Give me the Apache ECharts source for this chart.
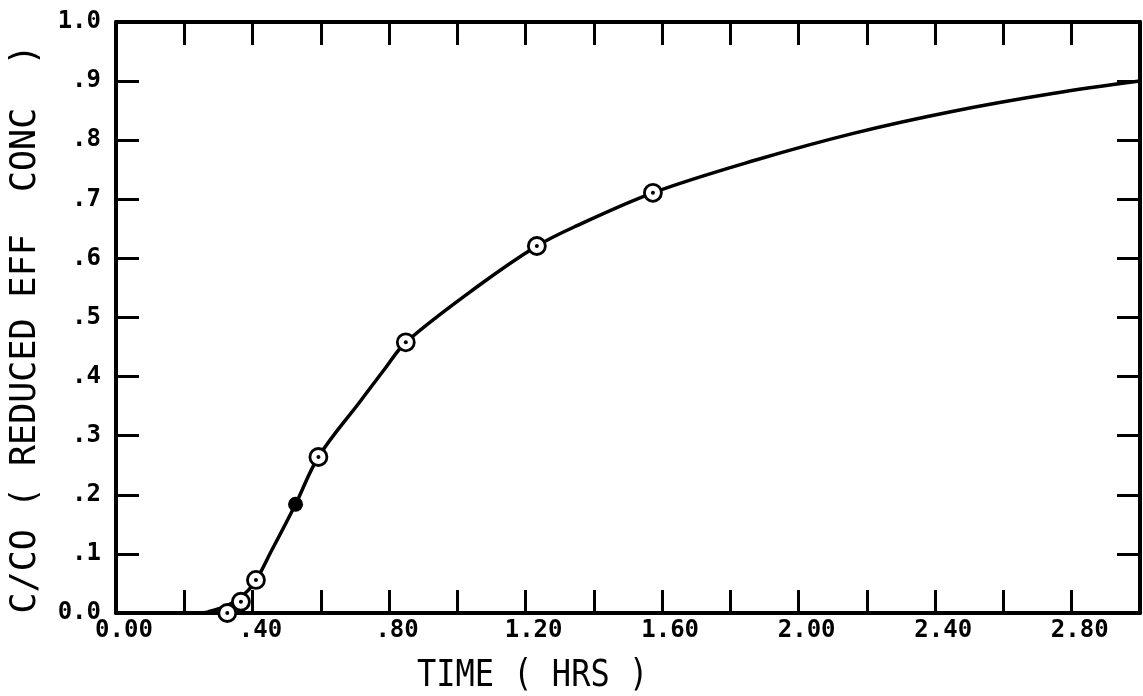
<!DOCTYPE html>
<html>
<head>
<meta charset="utf-8">
<script src="https://cdn.jsdelivr.net/npm/echarts@6/dist/echarts.min.js"></script>
<style>
  html, body { margin: 0; padding: 0; background: #fff; }
  #chart { width: 1143px; height: 696px; }
</style>
</head>
<body>
<div id="chart"></div>
<script>
  // smooth fitted curve
  let curveX = [0.235, 0.27, 0.34, 0.40, 0.457, 0.526, 0.593, 0.718, 0.79, 0.849, 1.058, 1.233, 1.349, 1.573, 1.872, 2.163, 2.453, 2.744, 3.0]
  let curveY = [0, 0.002, 0.017, 0.047, 0.107, 0.184, 0.264, 0.360, 0.415, 0.458, 0.552, 0.621, 0.655, 0.711, 0.766, 0.812, 0.849, 0.879, 0.900]
  // measured points (open circles)
  let pointX = [0.326, 0.366, 0.41, 0.593, 0.849, 1.233, 1.573]
  let pointY = [0.0, 0.019, 0.056, 0.264, 0.458, 0.621, 0.711]
  // the one solid point
  let solidX = [0.526]
  let solidY = [0.184]

  let xTitle = 'TIME ( HRS )'
  let yTitle = 'C/CO ( REDUCED EFF  CONC  )'

  let zip = (a, b) => a.map((v, i) => [v, b[i]])

  let chart = echarts.init(document.getElementById('chart'))

  let tickFont = {
    color: '#000',
    fontFamily: 'DejaVu Sans Mono',
    fontWeight: 'bold',
    fontSize: 24
  }
  let line = { show: true, onZero: false, lineStyle: { color: '#000', width: 4 } }
  let tick = { show: true, inside: true, length: 23, lineStyle: { color: '#000', width: 3 } }

  let xFmt = v => {
    let r = Math.round(v * 100)
    if (r % 40 !== 0) return ''
    if (r === 0) return '0.00'
    if (r < 100) return '.' + r
    return (r / 100).toFixed(2)
  }
  let yFmt = v => {
    let r = Math.round(v * 10)
    if (r === 0) return '0.0'
    if (r === 10) return '1.0'
    return '.' + r
  }

  let option = {
    animation: false,
    backgroundColor: '#fff',
    grid: { left: 116, top: 22, width: 1027, height: 591, containLabel: false },
    xAxis: [
      {
        type: 'value', position: 'bottom', min: 0, max: 3, interval: 0.2,
        axisLine: line,
        axisTick: tick,
        axisLabel: Object.assign({ margin: 6, formatter: xFmt, padding: [0, 0, 0, 16] }, tickFont),
        splitLine: { show: false }
      },
      {
        type: 'value', position: 'top', min: 0, max: 3, interval: 0.2,
        axisLine: line,
        axisTick: tick,
        axisLabel: { show: false },
        splitLine: { show: false }
      }
    ],
    yAxis: [
      {
        type: 'value', position: 'left', min: 0, max: 1, interval: 0.1,
        axisLine: line,
        axisTick: tick,
        axisLabel: Object.assign({ margin: 15, formatter: yFmt }, tickFont),
        splitLine: { show: false }
      },
      {
        type: 'value', position: 'right', min: 0, max: 1, interval: 0.1,
        axisLine: line,
        axisTick: tick,
        axisLabel: { show: false },
        splitLine: { show: false }
      }
    ],
    graphic: [
      {
        type: 'text', x: 417, y: 658, scaleY: 1.15,
        style: {
          text: xTitle, fill: '#000',
          fontFamily: 'DejaVu Sans Mono', fontSize: 32,
          align: 'left', verticalAlign: 'top'
        }
      },
      {
        type: 'text', x: 26, y: 329, rotation: Math.PI / 2,
        style: {
          text: yTitle, fill: '#000',
          fontFamily: 'DejaVu Sans Mono', fontSize: 35,
          align: 'center', verticalAlign: 'middle'
        }
      }
    ],
    series: [
      {
        type: 'line',
        data: zip(curveX, curveY),
        smooth: 0.35,
        showSymbol: false,
        clip: true,
        lineStyle: { color: '#000', width: 3.5 },
        z: 2
      },
      {
        type: 'scatter',
        data: zip(pointX, pointY),
        symbol: 'circle',
        symbolSize: 17,
        itemStyle: { color: '#fff', borderColor: '#000', borderWidth: 2.8, opacity: 1 },
        z: 3
      },
      {
        type: 'scatter',
        data: zip(pointX, pointY),
        symbol: 'circle',
        symbolSize: 4,
        itemStyle: { color: '#000', opacity: 1 },
        z: 4
      },
      {
        type: 'scatter',
        data: zip(solidX, solidY),
        symbol: 'circle',
        symbolSize: 15,
        itemStyle: { color: '#000', opacity: 1 },
        z: 4
      }
    ]
  }
  chart.setOption(option)
</script>
</body>
</html>
